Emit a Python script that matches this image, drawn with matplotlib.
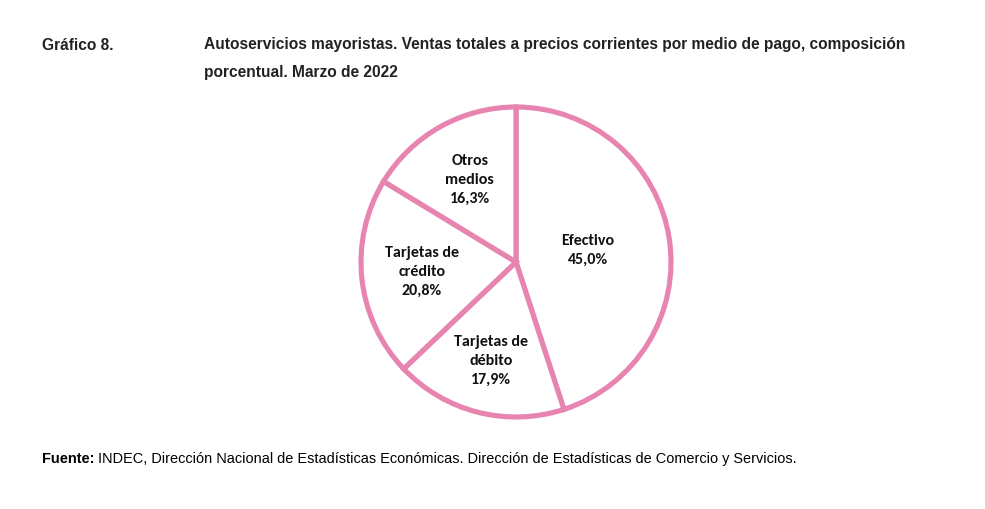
import numpy as np
import matplotlib.pyplot as plt
from matplotlib import font_manager

names = {f.name for f in font_manager.fontManager.ttflist}
narrow = 'Liberation Sans Narrow' if 'Liberation Sans Narrow' in names else 'Liberation Sans'
label_font = 'Carlito' if 'Carlito' in names else 'Lato'

# data
categorias = ['Efectivo', 'Tarjetas de\ndébito', 'Tarjetas de\ncrédito', 'Otros\nmedios']
valores = [45.0, 17.9, 20.8, 16.3]
etiquetas = ['45,0%', '17,9%', '20,8%', '16,3%']

pink = '#E784AF'
W, H = 985, 509
fig = plt.figure(figsize=(W/100, H/100), dpi=100)

# pie centred at (516, 262) px, radius 155 px
cx, cy, R = 516, 262, 155
half = 165
ax = fig.add_axes([(cx-half)/W, (H-cy-half)/H, 2*half/W, 2*half/H])

wedges, _ = ax.pie(valores, startangle=90, counterclock=False, radius=1,
                   colors=['white']*4,
                   wedgeprops=dict(edgecolor=pink, linewidth=3.7))
ax.set_xlim(-half/R, half/R); ax.set_ylim(-half/R, half/R)
ax.set_aspect('equal'); ax.axis('off')

dist = [0.47, 0.66, 0.61, 0.61]
for w, cat, et, d in zip(wedges, categorias, etiquetas, dist):
    ang = np.deg2rad((w.theta1 + w.theta2) / 2)
    ax.text(d*np.cos(ang), d*np.sin(ang), cat + '\n' + et, ha='center', va='center',
            fontsize=11.5, fontweight='bold', family=[label_font, 'DejaVu Sans'],
            linespacing=1.45, color='#111111')

tfs = 11.2
fig.text(42/W, 1-45/H, 'Gráfico 8.', family=narrow, fontweight='bold', fontsize=tfs,
         color='#222222', va='center')
fig.text(204/W, 1-45/H, 'Autoservicios mayoristas. Ventas totales a precios corrientes por medio de pago, composición',
         family=narrow, fontweight='bold', fontsize=tfs, color='#222222', va='center')
fig.text(204/W, 1-72/H, 'porcentual. Marzo de 2022',
         family=narrow, fontweight='bold', fontsize=tfs, color='#222222', va='center')

t = fig.text(42/W, 1-459/H, 'Fuente:', family='Liberation Sans', fontweight='bold', fontsize=10.45,
             va='center')
fig.canvas.draw()
bb = t.get_window_extent()
fig.text((bb.x1 + 4)/W, 1-459/H,
         'INDEC, Dirección Nacional de Estadísticas Económicas. Dirección de Estadísticas de Comercio y Servicios.',
         family='Liberation Sans', fontsize=10.45, va='center')

fig.savefig('out.png', dpi=100)
